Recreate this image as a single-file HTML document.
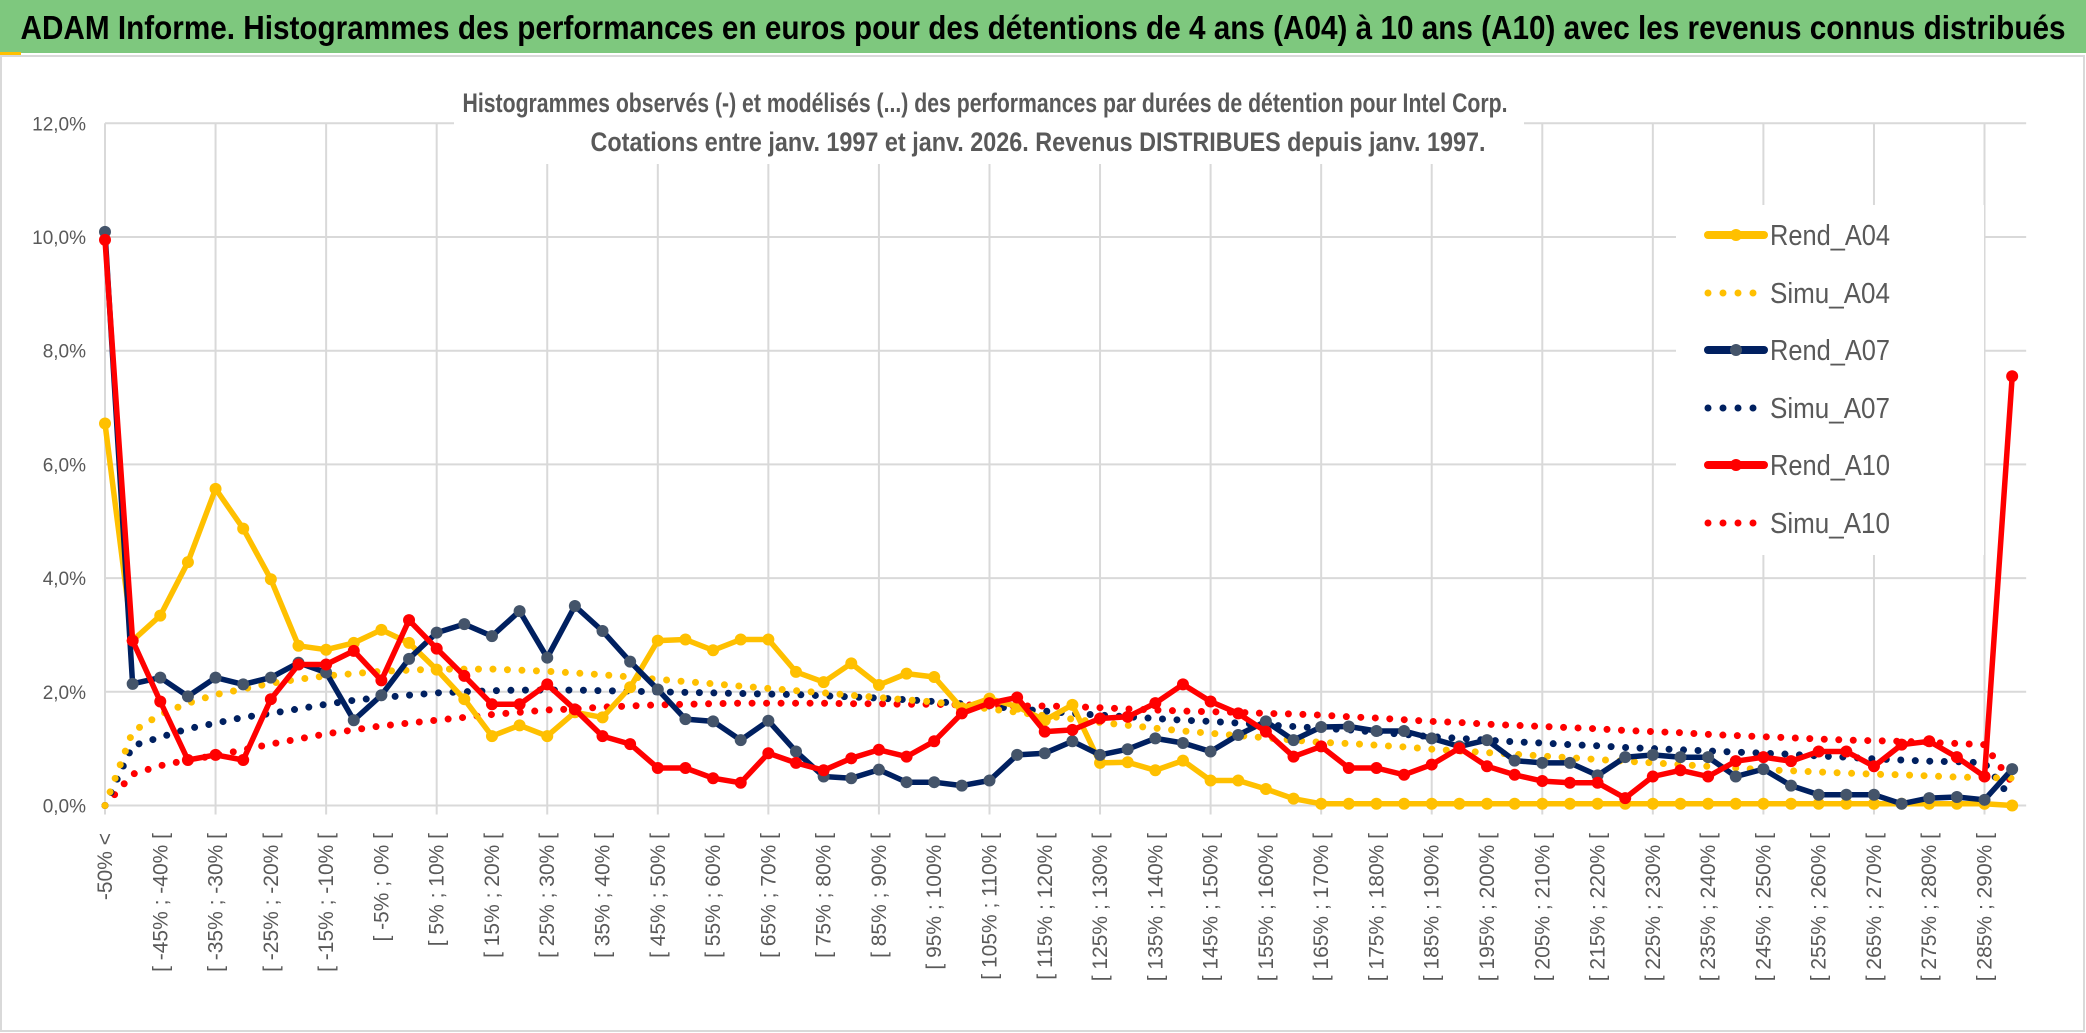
<!DOCTYPE html>
<html><head><meta charset="utf-8"><style>
html,body{margin:0;padding:0;background:#fff;}
svg{display:block;font-family:"Liberation Sans Narrow","Liberation Sans",sans-serif;}
</style></head><body>
<svg id="chart" width="2086" height="1033" viewBox="0 0 2086 1033" xmlns="http://www.w3.org/2000/svg">
<rect x="0" y="0" width="2086" height="1033" fill="#fff"/>
<rect x="0" y="0" width="2086" height="53" fill="#7EC87E"/>
<rect x="0" y="52" width="21" height="3" fill="#FFC000"/>
<text x="1043" y="39" text-anchor="middle" font-family="Liberation Sans" font-weight="bold" font-size="33" fill="#000" textLength="2045" lengthAdjust="spacingAndGlyphs">ADAM Informe. Histogrammes des performances en euros pour des détentions de 4 ans (A04) à 10 ans (A10) avec les revenus connus distribués</text>
<rect x="1" y="56" width="2083" height="975" fill="none" stroke="#d9d9d9" stroke-width="2"/>
<g id="grid"></g>
<rect x="454" y="78" width="1070" height="86" fill="#fff"/>
<text x="985" y="112" text-anchor="middle" font-family="Liberation Sans" font-weight="bold" font-size="27" fill="#595959" textLength="1045" lengthAdjust="spacingAndGlyphs">Histogrammes observés (-) et modélisés (...) des performances par durées de détention pour Intel Corp.</text>
<text x="1038" y="151" text-anchor="middle" font-family="Liberation Sans" font-weight="bold" font-size="27" fill="#595959" textLength="895" lengthAdjust="spacingAndGlyphs">Cotations entre janv. 1997 et janv. 2026. Revenus DISTRIBUES depuis janv. 1997.</text>
<g id="yaxis"></g>
<g id="xaxis"></g>
<g id="series"></g>
<g id="legend"></g>
</svg>
<script>
const yTicks = [0, 2, 4, 6, 8, 10, 12];
const yTickLabels = ["0,0%", "2,0%", "4,0%", "6,0%", "8,0%", "10,0%", "12,0%"];
const categoryCount = 70;
const rendA04 = [6.72,2.90,3.34,4.28,5.57,4.87,3.98,2.81,2.74,2.86,3.09,2.86,2.39,1.87,1.22,1.41,1.22,1.64,1.55,2.08,2.90,2.92,2.73,2.92,2.92,2.35,2.17,2.50,2.12,2.32,2.26,1.71,1.88,1.74,1.50,1.77,0.75,0.76,0.62,0.79,0.44,0.44,0.29,0.12,0.03,0.03,0.03,0.03,0.03,0.03,0.03,0.03,0.03,0.03,0.03,0.03,0.03,0.03,0.03,0.03,0.03,0.03,0.03,0.03,0.03,0.03,0.03,0.03,0.03,0.0];
const rendA07 = [10.09,2.14,2.25,1.92,2.25,2.13,2.25,2.51,2.34,1.50,1.94,2.58,3.04,3.19,2.98,3.42,2.60,3.51,3.07,2.53,2.04,1.52,1.48,1.15,1.49,0.95,0.51,0.48,0.63,0.41,0.41,0.35,0.44,0.89,0.92,1.13,0.89,0.99,1.18,1.10,0.95,1.24,1.48,1.15,1.38,1.39,1.31,1.31,1.18,1.04,1.15,0.79,0.75,0.75,0.53,0.85,0.89,0.85,0.85,0.51,0.64,0.35,0.19,0.19,0.19,0.03,0.13,0.15,0.10,0.64];
const rendA10 = [9.95,2.90,1.83,0.80,0.89,0.80,1.87,2.48,2.48,2.72,2.20,3.26,2.76,2.28,1.78,1.78,2.13,1.69,1.22,1.08,0.66,0.66,0.48,0.40,0.92,0.75,0.62,0.83,0.98,0.86,1.13,1.62,1.80,1.90,1.30,1.33,1.53,1.56,1.80,2.13,1.83,1.62,1.30,0.86,1.04,0.66,0.66,0.54,0.72,1.01,0.69,0.54,0.43,0.40,0.40,0.13,0.51,0.62,0.51,0.78,0.85,0.78,0.95,0.95,0.69,1.07,1.13,0.85,0.51,7.55];
const simuA04 = [0,1.30,1.60,1.80,1.95,2.05,2.15,2.22,2.28,2.32,2.36,2.38,2.40,2.40,2.40,2.38,2.36,2.33,2.30,2.26,2.22,2.18,2.14,2.10,2.06,2.02,1.98,1.94,1.90,1.86,1.82,1.76,1.70,1.64,1.58,1.52,1.46,1.41,1.36,1.31,1.27,1.23,1.19,1.15,1.11,1.09,1.06,1.03,0.99,0.96,0.93,0.90,0.87,0.84,0.81,0.78,0.75,0.72,0.69,0.66,0.63,0.61,0.59,0.57,0.55,0.54,0.52,0.50,0.49,0.48];
const simuA07 = [0,1.05,1.20,1.35,1.45,1.55,1.62,1.70,1.78,1.85,1.90,1.94,1.98,2.00,2.02,2.03,2.03,2.03,2.02,2.01,2.00,1.99,1.98,1.97,1.96,1.95,1.93,1.91,1.89,1.86,1.83,1.79,1.75,1.70,1.66,1.62,1.59,1.56,1.53,1.50,1.48,1.45,1.42,1.39,1.36,1.33,1.29,1.25,1.21,1.18,1.15,1.12,1.10,1.07,1.05,1.02,1.00,0.98,0.96,0.94,0.92,0.90,0.87,0.85,0.82,0.80,0.78,0.77,0.75,0.10];
const simuA10 = [0,0.55,0.70,0.80,0.88,0.98,1.08,1.17,1.26,1.33,1.40,1.45,1.50,1.55,1.60,1.64,1.68,1.70,1.73,1.75,1.77,1.78,1.79,1.80,1.80,1.80,1.80,1.79,1.79,1.78,1.78,1.77,1.76,1.75,1.75,1.74,1.72,1.70,1.68,1.66,1.65,1.64,1.62,1.61,1.59,1.56,1.54,1.51,1.48,1.46,1.43,1.41,1.39,1.37,1.35,1.32,1.30,1.28,1.25,1.23,1.21,1.19,1.17,1.15,1.14,1.13,1.11,1.09,1.07,0.40];
const seriesNames = ["Rend_A04","Simu_A04","Rend_A07","Simu_A07","Rend_A10","Simu_A10"];

const NS = "http://www.w3.org/2000/svg";
const X0 = 105, XSTEP = 27.64, Y0 = 805.5, YPER = 56.85;
function xPos(i){ return X0 + i*XSTEP; }
function yPos(v){ return Y0 - v*YPER; }
function mk(tag, attrs, parent){ const e=document.createElementNS(NS,tag); for(const k in attrs) e.setAttribute(k,attrs[k]); parent.appendChild(e); return e; }
function catLabel(i){ if(i===0) return "-50% <"; const a=-55+5*i, b=a+5; return "[ "+a+"% ; "+b+"% ["; }

const grid = document.getElementById('grid');
const xRight = xPos(categoryCount-1) + 14;
yTicks.forEach((t,k)=>{
  const y=yPos(t);
  const ln = mk('line',{x1:X0,x2:xRight,y1:y,y2:y,stroke:'#d9d9d9','stroke-width':2},grid);
  
  
});
for(let i=0;i<categoryCount;i+=4){
  const x=xPos(i);
  const ln = mk('line',{x1:x,x2:x,y1:yPos(12),y2:Y0+9,stroke:'#d9d9d9','stroke-width':2},grid);
  
  
}
const yax = document.getElementById('yaxis');
yTicks.forEach((t,k)=>{
  const tx = mk('text',{x:86,y:yPos(t)+7,'text-anchor':'end','font-family':'Liberation Sans','font-size':19,fill:'#595959'},yax);
  tx.textContent = yTickLabels[k];
  
  
});
const xax = document.getElementById('xaxis');
for(let i=0;i<categoryCount-1;i+=2){
  const x=xPos(i)+7, y=833;
  const tx = mk('text',{x:x,y:y,'text-anchor':'end','font-family':'Liberation Sans','font-size':21,fill:'#595959',transform:'rotate(-90 '+x+' '+y+')'},xax);
  tx.textContent = catLabel(i);
  
  
}

const ser = document.getElementById('series');
function pts(arr){ return arr.map((v,i)=>xPos(i).toFixed(1)+','+yPos(v).toFixed(1)).join(' '); }
function simu(arr,color,name){
  const p = mk('polyline',{points:pts(arr),fill:'none',stroke:color,'stroke-width':7,'stroke-linecap':'round','stroke-dasharray':'0 14.5'},ser);
  
  
}
function rend(arr,color,mcolor,name){
  const p = mk('polyline',{points:pts(arr),fill:'none',stroke:color,'stroke-width':5.5,'stroke-linejoin':'round'},ser);
  
  
  arr.forEach((v,i)=>{
    const c = mk('circle',{cx:xPos(i),cy:yPos(v),r:6,fill:mcolor},ser);
    
    
  });
}
simu(simuA10,'#FF0000','simu-a10-line');
simu(simuA07,'#002060','simu-a07-line');
simu(simuA04,'#FFC000','simu-a04-line');
rend(rendA04,'#FFC000','#FFC000','rend-a04-line');
rend(rendA07,'#002060','#44546A','rend-a07-line');
rend(rendA10,'#FF0000','#FF0000','rend-a10-line');

const lg = document.getElementById('legend');
const lbg = mk('rect',{x:1676,y:205,width:308,height:350,fill:'#fff'},lg);


const legY=[235,293,350,408,465,523];
const legC=['#FFC000','#FFC000','#002060','#002060','#FF0000','#FF0000'];
const legM=['#FFC000',null,'#44546A',null,'#FF0000',null];
seriesNames.forEach((n,k)=>{
  const y=legY[k];
  if(k%2===0){
    const l=mk('line',{x1:1708,x2:1764,y1:y,y2:y,stroke:legC[k],'stroke-width':8,'stroke-linecap':'round'},lg);
    
    
    const c=mk('circle',{cx:1736,cy:y,r:6,fill:legM[k]},lg);
    
    
  } else {
    const l=mk('line',{x1:1708,x2:1759,y1:y,y2:y,stroke:legC[k],'stroke-width':7,'stroke-linecap':'round','stroke-dasharray':'0 15'},lg);
    
    
  }
  const t=mk('text',{x:1770,y:y+10,'font-family':'Liberation Sans','font-size':29,fill:'#595959',textLength:120,lengthAdjust:'spacingAndGlyphs'},lg);
  t.textContent=n;
  
  
});
</script>
</body></html>
